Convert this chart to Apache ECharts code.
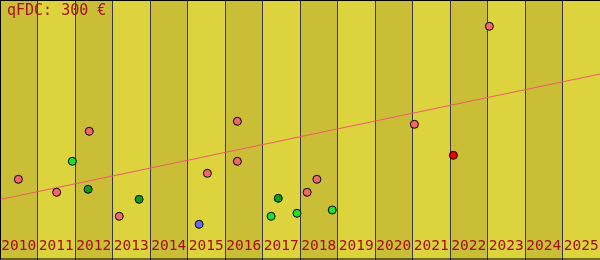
<!DOCTYPE html>
<html>
<head>
<meta charset="utf-8">
<script src="https://cdn.jsdelivr.net/npm/echarts@6/dist/echarts.min.js"></script>
<style>html,body{margin:0;padding:0;background:#dcd33d;}#c{width:600px;height:260px;}</style>
</head>
<body>
<div id="c"></div>
<script>
var years = ['2010','2011','2012','2013','2014','2015','2016','2017','2018','2019','2020','2021','2022','2023','2024','2025'];
var titleText = 'qFDC: 300 €';
// [year position, value]
var pinkPoints = [[2010.49,80.7],[2011.51,67.7],[2012.38,128.7],[2013.18,43.7],[2015.53,86.7],[2016.33,138.7],[2016.33,98.7],[2018.19,67.7],[2018.45,80.7],[2021.05,135.7],[2023.05,233.7]];
var lightGreenPoints = [[2011.93,98.7],[2017.23,43.7],[2017.92,46.7],[2018.86,50]];
var darkGreenPoints = [[2012.35,70.7],[2013.71,60.7],[2017.42,61.7]];
var bluePoints = [[2015.31,35.7]];
var redPoints = [[2022.09,104.7]];
var trendLine = [[2010,60.5],[2026,186]];

var chart = echarts.init(document.getElementById('c'), null, {renderer:'canvas'});
function pts(name, data, color){
  return {type:'scatter', name:name, xAxisIndex:1, data:data, symbol:'circle', symbolSize:8,
    itemStyle:{color:color, borderColor:'#000', borderWidth:1, opacity:1}, z:5, silent:true};
}
chart.setOption({
  animation:false,
  backgroundColor:'#dcd33d',
  grid:{left:0, right:0, top:0, bottom:0, containLabel:false, outerBoundsMode:'none'},
  title:{text:titleText, left:7, top:4, padding:0, textStyle:{fontFamily:'DejaVu Sans Mono', fontSize:15, fontWeight:'normal', color:'#a31515'}},
  xAxis:[
    {type:'category', data:years, boundaryGap:true, position:'bottom',
      axisLine:{show:false}, axisTick:{show:false},
      axisLabel:{inside:true, margin:6, interval:0, fontFamily:'DejaVu Sans Mono', fontSize:14.5, color:'#a30e0e', hideOverlap:false},
      splitLine:{show:true, interval:0, lineStyle:{color:'#383848', width:1}},
      splitArea:{show:true, interval:0, areaStyle:{color:['#c9be36','#dcd33d']}}},
    {type:'value', min:2010, max:2026, show:false, splitLine:{show:false}}
  ],
  yAxis:{type:'value', min:0, max:260, show:false, splitLine:{show:false}},
  series:[
    {type:'line', xAxisIndex:1, data:trendLine, symbol:'none', lineStyle:{color:'#f05a6a', width:1}, z:3, silent:true},
    pts('pink', pinkPoints, '#f06868'),
    pts('lightgreen', lightGreenPoints, '#22e022'),
    pts('darkgreen', darkGreenPoints, '#129a12'),
    pts('blue', bluePoints, '#6a6aee'),
    pts('red', redPoints, '#ee0000')
  ],
  graphic:[{type:'rect', shape:{x:0.5,y:0.5,width:601,height:258.5}, style:{fill:null, stroke:'#000', lineWidth:1}, z:100, silent:true}]
});
</script>
</body>
</html>
